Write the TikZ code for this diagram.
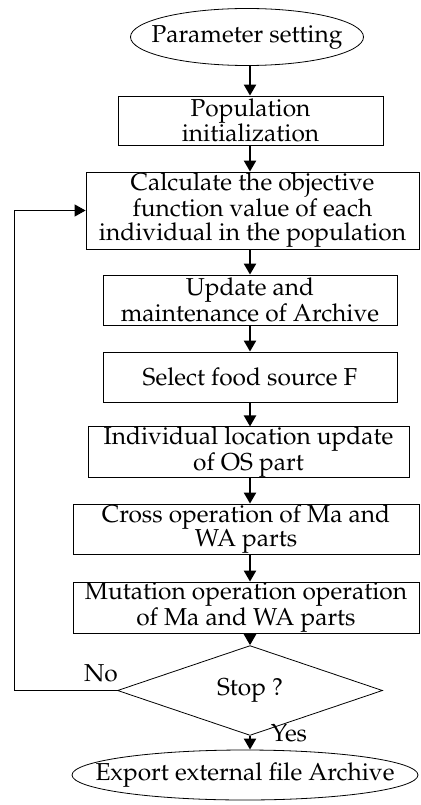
\documentclass[tikz,border=0pt]{standalone}
\usepackage[T1]{fontenc}
\usepackage{mathpazo}
\usepackage{tikz}
\usetikzlibrary{shapes.geometric}
\usetikzlibrary{arrows.meta}

\begin{document}
\begin{tikzpicture}[x=1pt,y=-1pt,
	txt/.style={font=\fontsize{24.5}{24.5}\selectfont},
	box/.style={txt,draw,line width=0.8pt,rectangle,align=center,inner sep=0pt},
	term/.style={txt,draw,line width=0.8pt,ellipse,inner ysep=0pt,inner xsep=-60pt},
	decide/.style={txt,draw,line width=0.8pt,diamond,inner sep=0pt},
	flow/.style={-{Triangle[length=11pt,width=12pt]},line width=2.2pt},
	loop/.style={-{Triangle[length=11pt,width=12pt]},line width=1pt}]
	\useasboundingbox (0,0) rectangle (420,805);
	\node[term,minimum width=233,minimum height=57] (start) at (247,37) {Parameter setting};
	\node[box,minimum width=265,minimum height=49] (init) at (250.5,120.5) {Population\\initialization};
	\node[box,minimum width=333,minimum height=77] (calc) at (252.5,210.5) {Calculate the objective\\function value of each\\individual in the population};
	\node[box,minimum width=294,minimum height=50] (arch) at (250,300) {Update and\\maintenance of Archive};
	\node[box,minimum width=294,minimum height=50] (food) at (250,377) {Select food source F};
	\node[box,minimum width=321,minimum height=50] (loc) at (248.5,452) {Individual location update\\of OS part};
	\node[box,minimum width=346,minimum height=50] (cross) at (246,529) {Cross operation of Ma and\\WA parts};
	\node[box,minimum width=346,minimum height=51] (mut) at (246,607.5) {Mutation operation operation\\of Ma and WA parts};
	\node[decide,minimum width=265,minimum height=57] (stop) at (250,690.5) {Stop ?};
	\node[term,minimum width=346,minimum height=50] (finish) at (245,775) {Export external file Archive};
	\node[txt] (no) at (101,673) {No};
	\node[txt] (yes) at (289,733) {Yes};
	\coordinate (back) at (14,690.5);
	% main flow
	\draw[flow] (start.south -| arch.north) -- (init.north -| arch.north);
	\draw[flow] (init.south -| arch.north) -- (calc.north -| arch.north);
	\draw[flow] (calc.south -| arch.north) -- (arch.north);
	\draw[flow] (arch) -- (food);
	\draw[flow] (food.south) -- (loc.north -| food.south);
	\draw[flow] (loc.south -| food.south) -- (cross.north -| food.south);
	\draw[flow] (cross.south -| food.south) -- (mut.north -| food.south);
	\draw[flow] (mut.south -| stop.north) -- (stop.north);
	\draw[flow] (stop.south) -- (finish.north -| stop.south);
	% back to evaluation
	\draw[loop] (stop.west) -- (back) |- (calc.west);
\end{tikzpicture}
\end{document}
